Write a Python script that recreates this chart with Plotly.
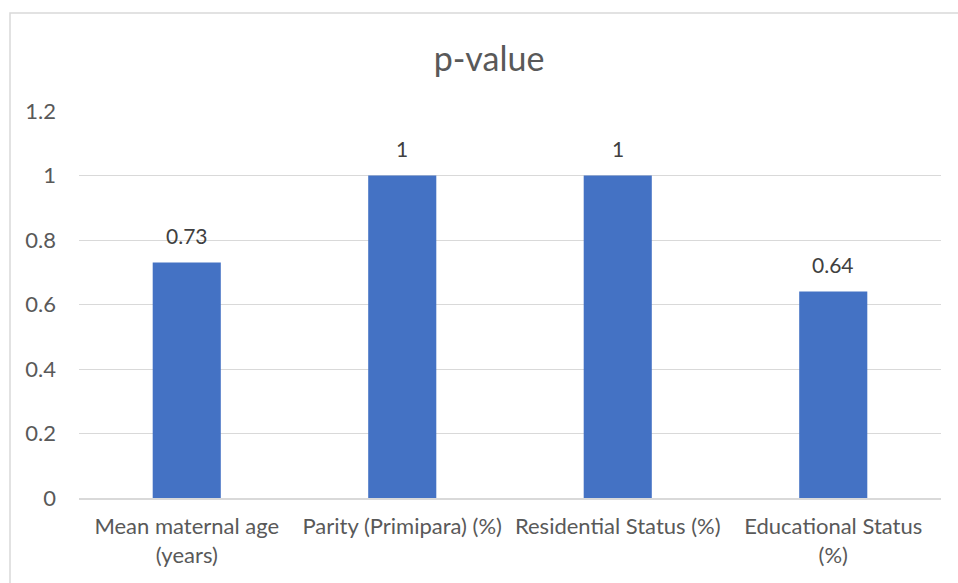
import plotly.graph_objects as go

categories = ["Mean maternal age<br>(years)", "Parity (Primipara) (%)",
              "Residential Status (%)", "Educational Status<br>(%)"]
p_values = [0.73, 1, 1, 0.64]
labels = ["0.73", "1", "1", "0.64"]
y_ticks = [0, 0.2, 0.4, 0.6, 0.8, 1, 1.2]
y_tick_text = ["0", "0.2", "0.4", "0.6", "0.8", "1", "1.2"]

FONT = "Lato"
W, H = 958, 583

fig = go.Figure(go.Bar(
    x=categories, y=p_values,
    marker=dict(color="#4472C4", line=dict(width=0)),
))

for c, v, t in zip(categories, p_values, labels):
    fig.add_annotation(x=c, y=v, text=t, showarrow=False, yanchor="bottom",
                       yshift=13, font=dict(family=FONT, size=21, color="#404040"))

fig.update_layout(
    width=W, height=H,
    margin=dict(l=79, r=17, t=111, b=85),
    paper_bgcolor="white", plot_bgcolor="white",
    bargap=0.684,
    showlegend=False,
    font=dict(family=FONT, color="#595959", size=22),
    title=dict(text="p-value", x=489 / W, xref="container", xanchor="center",
               y=1 - 59 / H, yref="container", yanchor="middle",
               font=dict(family=FONT, size=34, color="#595959")),
    xaxis=dict(showgrid=False, showline=True, linecolor="#D9D9D9", linewidth=1.5,
               ticks="", tickfont=dict(family=FONT, size=22, color="#595959"),
               ticklabelstandoff=8),
    yaxis=dict(range=[0, 1.2], tickvals=y_ticks, ticktext=y_tick_text,
               showgrid=True, gridcolor="#D9D9D9", gridwidth=1.2,
               zeroline=False, showline=False, ticks="",
               tickfont=dict(family=FONT, size=22, color="#595959"),
               ticklabelstandoff=22),
    shapes=[dict(type="rect", xref="paper", yref="paper",
                 x0=(10 - 79) / (W - 79 - 17), x1=(W + 5 - 79) / (W - 79 - 17),
                 y0=-(H + 5 - 498) / (498 - 111), y1=1 + (111 - 13) / (498 - 111),
                 line=dict(color="#D9D9D9", width=1.5), layer="below")],
)

fig.write_html("out.html")
